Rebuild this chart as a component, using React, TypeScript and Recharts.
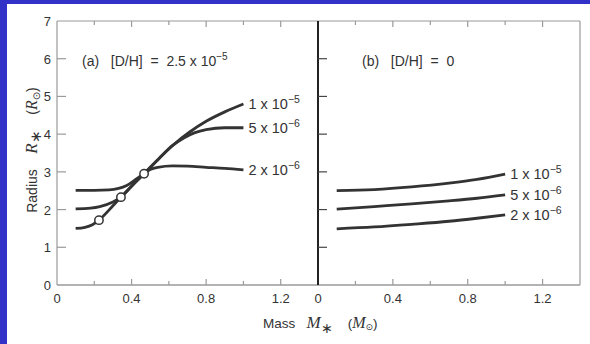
import { ComposedChart, Line, Scatter, XAxis, YAxis } from "recharts";

// x axis (mass, solar masses)
const massTicks = [0, 0.2, 0.4, 0.6, 0.8, 1.0, 1.2];
const massTickLabels = ["0", "", "0.4", "", "0.8", "", "1.2"];
// y axis (radius, solar radii)
const radiusTicks = [0, 1, 2, 3, 4, 5, 6, 7];

// panel (a) [D/H] = 2.5e-5
const massA1 = [0.1, 0.15, 0.19, 0.225, 0.3, 0.343, 0.4, 0.467, 0.55, 0.63, 0.71, 0.8, 0.9, 1.0];
const radA1 = [1.5, 1.53, 1.6, 1.72, 2.1, 2.33, 2.62, 2.95, 3.37, 3.74, 4.05, 4.34, 4.59, 4.8];
const massA2 = [0.1, 0.18, 0.23, 0.3, 0.343, 0.4, 0.467, 0.55, 0.62, 0.68, 0.74, 0.8, 0.9, 1.0];
const radA2 = [2.02, 2.04, 2.08, 2.2, 2.33, 2.62, 2.95, 3.37, 3.7, 3.9, 4.04, 4.12, 4.17, 4.17];
const massA3 = [0.1, 0.2, 0.28, 0.33, 0.374, 0.428, 0.467, 0.5, 0.54, 0.62, 0.7, 0.8, 0.9, 1.0];
const radA3 = [2.51, 2.51, 2.52, 2.56, 2.64, 2.82, 2.95, 3.06, 3.12, 3.16, 3.15, 3.12, 3.09, 3.05];
const circleMass = [0.225, 0.343, 0.467];
const circleRad = [1.72, 2.33, 2.95];

// panel (b) [D/H] = 0
const massB = [0.1, 0.3, 0.5, 0.7, 0.85, 1.0];
const radB1 = [2.5, 2.53, 2.6, 2.7, 2.8, 2.94];
const radB2 = [2.01, 2.08, 2.15, 2.23, 2.3, 2.39];
const radB3 = [1.49, 1.54, 1.61, 1.69, 1.77, 1.86];

// accretion-rate labels at the line ends
const rateMant = ["1", "5", "2"];
const rateExp = ["−5", "−6", "−6"];

const pts = (m: number[], r: number[]) => m.map((x, i) => ({ m: x, r: r[i] }));

const INK = "#333";
const FRAME = "#9a9a9a";
const SANS = "'Liberation Sans', Arial, sans-serif";
const SERIF = "'Liberation Serif', 'DejaVu Serif', serif";

const BottomTick = ({ x, y, payload }: any) => {
  const i = massTicks.indexOf(payload.value);
  const major = massTickLabels[i] !== "";
  return (
    <g>
      {i > 0 && <line x1={x} x2={x} y1={y} y2={y - (major ? 6 : 4)} stroke={FRAME} strokeWidth={1.2} />}
      <text x={x} y={y + 18} textAnchor="middle" fontSize={13} fontFamily={SANS} fill={INK}>
        {massTickLabels[i]}
      </text>
    </g>
  );
};

const TopTick = ({ x, y, payload }: any) => {
  const i = massTicks.indexOf(payload.value);
  const major = massTickLabels[i] !== "";
  if (i <= 0) return <g />;
  return <line x1={x} x2={x} y1={y} y2={y + (major ? 6 : 4)} stroke={FRAME} strokeWidth={1.2} />;
};

const LeftTick = (withLabel: boolean, color: string) => ({ x, y, payload }: any) => {
  const v = payload.value;
  return (
    <g>
      {v > 0 && v < 7 && <line x1={x} x2={x + 9} y1={y} y2={y} stroke={color} strokeWidth={1.2} />}
      {withLabel && (
        <text x={x - 6} y={y + 5} textAnchor="end" fontSize={13} fontFamily={SANS} fill={INK}>
          {v}
        </text>
      )}
    </g>
  );
};

const RightTick = (color: string) => ({ x, y, payload }: any) => {
  const v = payload.value;
  if (v <= 0 || v >= 7) return <g />;
  return <line x1={x} x2={x - 9} y1={y} y2={y} stroke={color} strokeWidth={1.2} />;
};

const endLabel = (k: number, last: number) => (p: any) => {
  if (p.index !== last) return <g key={p.key} />;
  return (
    <text key={p.key} x={p.cx + 5} y={p.cy + 5} fontSize={14.5} fontFamily={SANS} fill={INK} style={{ whiteSpace: "pre" }}>
      {rateMant[k] + " x 10"}
      <tspan dy={-6} fontSize={10.5}>{rateExp[k]}</tspan>
    </text>
  );
};

const Circle = (p: any) => (
  <circle cx={p.cx} cy={p.cy} r={4.2} fill="#fff" stroke={INK} strokeWidth={1.5} />
);

const axesFor = (panel: "a" | "b") => [
  <XAxis
    key="xb"
    xAxisId="b"
    type="number"
    dataKey="m"
    domain={[0, 1.4]}
    allowDataOverflow
    ticks={massTicks}
    interval={0}
    height={59}
    tickSize={0}
    tickMargin={0}
    tickLine={false}
    axisLine={{ stroke: FRAME, strokeWidth: 1.5 }}
    tick={<BottomTick />}
  />,
  <XAxis
    key="xt"
    xAxisId="t"
    orientation="top"
    type="number"
    dataKey="m"
    domain={[0, 1.4]}
    allowDataOverflow
    ticks={massTicks}
    interval={0}
    height={1}
    tickSize={0}
    tickMargin={0}
    tickLine={false}
    axisLine={{ stroke: FRAME, strokeWidth: 1.2 }}
    tick={<TopTick />}
  />,
  <YAxis
    key="yl"
    yAxisId="l"
    type="number"
    domain={[0, 7]}
    ticks={radiusTicks}
    interval={0}
    width={panel === "a" ? 57 : 18}
    tickSize={0}
    tickMargin={0}
    tickLine={false}
    axisLine={panel === "a" ? { stroke: FRAME, strokeWidth: 1.2 } : { stroke: "#222", strokeWidth: 2 }}
    tick={LeftTick(panel === "a", panel === "a" ? FRAME : "#444")}
  />,
  <YAxis
    key="yr"
    yAxisId="r"
    orientation="right"
    type="number"
    domain={[0, 7]}
    ticks={radiusTicks}
    interval={0}
    width={1}
    tickSize={0}
    tickMargin={0}
    tickLine={false}
    axisLine={panel === "a" ? { stroke: "#222", strokeWidth: 2 } : { stroke: FRAME, strokeWidth: 1.2 }}
    tick={RightTick(panel === "a" ? "#444" : FRAME)}
  />,
];

export default function App() {
  const seriesA = [pts(massA1, radA1), pts(massA2, radA2), pts(massA3, radA3)];
  const seriesB = [pts(massB, radB1), pts(massB, radB2), pts(massB, radB3)];
  const circles = pts(circleMass, circleRad);

  return (
    <div style={{ position: "relative", width: 590, height: 344, background: "#fff", overflow: "hidden" }}>
      <style>{`body{margin:0}`}</style>
      <div style={{ position: "absolute", left: 0, top: 0, width: 7, height: 344, background: "#3232c8" }} />
      <div style={{ position: "absolute", left: 0, top: 0, width: 590, height: 4, background: "#3232c8" }} />

      <div style={{ position: "absolute", left: 0, top: 0 }}>
        <ComposedChart width={330} height={344} margin={{ top: 20, right: 11, bottom: 0, left: 0 }}>
          {axesFor("a")}
          {seriesA.map((d, k) => (
            <Line
              key={k}
              data={d}
              xAxisId="b"
              yAxisId="l"
              dataKey="r"
              type="monotone"
              stroke={INK}
              strokeWidth={2.8}
              dot={endLabel(k, d.length - 1)}
              activeDot={false}
              isAnimationActive={false}
            />
          ))}
          <Scatter
            data={circles}
            xAxisId="b"
            yAxisId="l"
            dataKey="r"
            shape={Circle}
            isAnimationActive={false}
          />
        </ComposedChart>
      </div>

      <div style={{ position: "absolute", left: 300, top: 0 }}>
        <ComposedChart width={290} height={344} margin={{ top: 20, right: 9, bottom: 0, left: 0 }}>
          {axesFor("b")}
          {seriesB.map((d, k) => (
            <Line
              key={k}
              data={d}
              xAxisId="b"
              yAxisId="l"
              dataKey="r"
              type="monotone"
              stroke={INK}
              strokeWidth={2.8}
              dot={endLabel(k, d.length - 1)}
              activeDot={false}
              isAnimationActive={false}
            />
          ))}
        </ComposedChart>
      </div>

      <svg width={590} height={344} style={{ position: "absolute", left: 0, top: 0, pointerEvents: "none" }}>
        <text x={82} y={66} fontSize={14} fontFamily={SANS} fill={INK} style={{ whiteSpace: "pre" }}>
          {"(a)   [D/H]  =  2.5 x 10"}
          <tspan dy={-6} fontSize={10}>−5</tspan>
        </text>
        <text x={362} y={66} fontSize={14} fontFamily={SANS} fill={INK} style={{ whiteSpace: "pre" }}>
          {"(b)   [D/H]  =  0"}
        </text>
        <text
          transform="translate(37,150) rotate(-90)"
          textAnchor="middle"
          fontSize={14}
          fontFamily={SANS}
          fill={INK}
          style={{ whiteSpace: "pre" }}
        >
          {"Radius    "}
          <tspan fontFamily={SERIF} fontStyle="italic" fontSize={17}>R</tspan>
          <tspan dy={4} fontSize={15}>∗</tspan>
          <tspan dy={-4}>{"    ("}</tspan>
          <tspan fontFamily={SERIF} fontStyle="italic" fontSize={16}>R</tspan>
          <tspan dy={3} fontSize={10} fontFamily="'DejaVu Sans'">⊙</tspan>
          <tspan dy={-3}>)</tspan>
        </text>
        <text x={263} y={328} fontSize={13.5} fontFamily={SANS} fill={INK} style={{ whiteSpace: "pre" }}>
          {"Mass   "}
          <tspan fontSize={17} fontFamily={SERIF} fontStyle="italic">M</tspan>
          <tspan dy={5} fontSize={14}>∗</tspan>
          <tspan dy={-5}>{"    ("}</tspan>
          <tspan fontSize={16} fontFamily={SERIF} fontStyle="italic">M</tspan>
          <tspan dy={2} fontSize={9} fontFamily="'DejaVu Sans'">⊙</tspan>
          <tspan dy={-2}>)</tspan>
        </text>
      </svg>
    </div>
  );
}
